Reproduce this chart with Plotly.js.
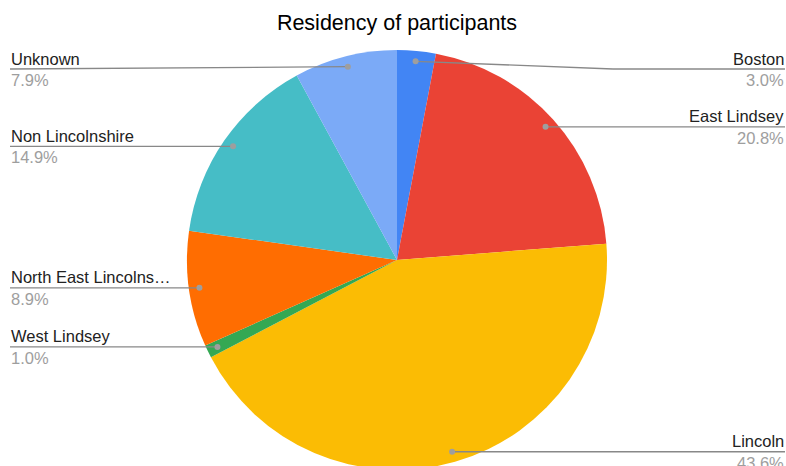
<!DOCTYPE html>
<html>
<head>
<meta charset="utf-8">
<script src="https://cdn.plot.ly/plotly-3.0.1.min.js"></script>
<style>
html,body{margin:0;padding:0;overflow:hidden;background:#fff;}
#chart{width:786px;height:480px;}
</style>
</head>
<body>
<div id="chart"></div>
<script>
// ---- data ----
const categories = ['Boston','East Lindsey','Lincoln','West Lindsey','North East Lincolnshire','Non Lincolnshire','Unknown'];
const shownLabels = ['Boston','East Lindsey','Lincoln','West Lindsey','North East Lincolns\u2026','Non Lincolnshire','Unknown'];
const participants = [3,21,44,1,9,15,8];
const sliceColors = ['#4285F4','#EA4335','#FBBC04','#34A853','#FF6D01','#46BDC6','#7BAAF7'];
const chartTitle = 'Residency of participants';

// ---- layout constants (pixels) ----
const W = 786, H = 480;
const CX = 397, CY = 260, R = 210;
const FONT = 'Arial, "Liberation Sans", sans-serif';

const px2x = p => p / W;
const px2y = p => 1 - p / H;

const total = participants.reduce((a,b)=>a+b,0);
const shapes = [], annotations = [];
let cum = 0;
participants.forEach((v,i)=>{
  const mid = (cum + v/2) / total;
  cum += v;
  const ang = mid * 2 * Math.PI;
  const dx = CX + Math.sin(ang) * R * 0.95;
  const dy = CY - Math.cos(ang) * R * 0.95;
  const right = mid < 0.5;
  const ly = Math.max(dy, 69);
  const pct = (v/total*100).toFixed(1) + '%';
  const lineCol = '#888888';
  if (right) {
    const ex = CX + R + 6;
    if (Math.abs(ly - dy) > 0.5) {
      shapes.push({type:'line', xref:'paper', yref:'paper', x0:px2x(dx), y0:px2y(dy), x1:px2x(ex), y1:px2y(ly), line:{color:lineCol,width:1.3}});
      shapes.push({type:'line', xref:'paper', yref:'paper', x0:px2x(ex), y0:px2y(ly), x1:px2x(785), y1:px2y(ly), line:{color:lineCol,width:1.3}});
    } else {
      shapes.push({type:'line', xref:'paper', yref:'paper', x0:px2x(dx), y0:px2y(ly), x1:px2x(785), y1:px2y(ly), line:{color:lineCol,width:1.3}});
    }
  } else {
    shapes.push({type:'line', xref:'paper', yref:'paper', x0:px2x(10), y0:px2y(ly), x1:px2x(dx), y1:px2y(dy), line:{color:lineCol,width:1.3}});
  }
  shapes.push({type:'circle', xref:'paper', yref:'paper', x0:px2x(dx-3), x1:px2x(dx+3), y0:px2y(dy-3), y1:px2y(dy+3), fillcolor:'#9e9e9e', line:{width:0}});
  const ax = right ? px2x(785) : px2x(10);
  const xa = right ? 'right' : 'left';
  annotations.push({xref:'paper', yref:'paper', x:ax, y:px2y(ly-0.5), xanchor:xa, yanchor:'bottom', showarrow:false, borderpad:0,
    text:shownLabels[i], font:{family:FONT, size:16.5, color:'#222222'}});
  annotations.push({xref:'paper', yref:'paper', x:ax, y:px2y(ly+1), xanchor:xa, yanchor:'top', showarrow:false, borderpad:0,
    text:pct, font:{family:FONT, size:16.5, color:'#9e9e9e'}});
});

const trace = {
  type:'pie',
  labels:categories,
  values:participants,
  marker:{colors:sliceColors, line:{width:0}},
  sort:false,
  direction:'clockwise',
  rotation:0,
  textinfo:'none',
  hoverinfo:'label+percent',
  showlegend:false,
  domain:{x:[(CX-R)/W,(CX+R)/W], y:[1-(CY+R)/H, 1-(CY-R)/H]}
};

const layout = {
  width:W, height:H,
  margin:{l:0,r:0,t:0,b:0},
  paper_bgcolor:'#ffffff',
  title:{text:chartTitle, x:CX/W, xanchor:'center', y:1-22/H, yanchor:'middle', yref:'container', font:{family:FONT, size:21.5, color:'#000000'}},
  showlegend:false,
  shapes:shapes,
  annotations:annotations
};

Plotly.newPlot('chart',[trace],layout,{displayModeBar:false,staticPlot:true});
</script>
</body>
</html>
